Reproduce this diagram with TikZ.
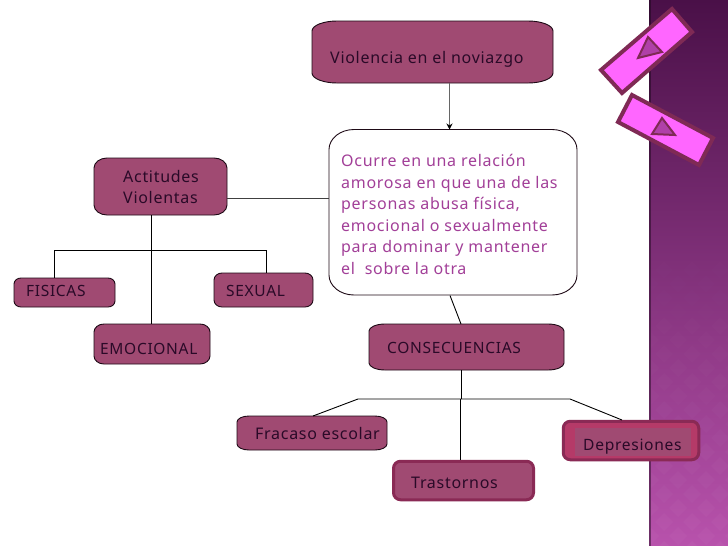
\documentclass[tikz,border=0pt]{standalone}
\usepackage{fontspec}
\setmainfont[LetterSpace=4.4]{Noto Sans}
\usetikzlibrary{arrows.meta}
\definecolor{boxfill}{HTML}{A04A72}
\definecolor{boxedge}{HTML}{1E0A16}
\definecolor{heavyedge}{HTML}{8A2A55}
\definecolor{deprfill}{HTML}{B53A68}
\definecolor{txtdark}{HTML}{2A0A28}
\definecolor{txtpink}{HTML}{A23F98}
\definecolor{decopink}{HTML}{FF66FF}
\definecolor{decoedge}{HTML}{7F2A55}
\definecolor{decotri}{HTML}{B040A8}
\definecolor{bandtop}{HTML}{4A1048}
\definecolor{bandmid}{HTML}{963C91}
\definecolor{bandbot}{HTML}{B852AC}
\tikzset{
  x=1pt,y=-1pt,
  softshape/.style={fill=boxfill,draw=boxedge,line width=0.9pt},
  whiteshape/.style={fill=white,draw=boxedge,line width=0.9pt},
  heavyshape/.style={fill=boxfill,draw=heavyedge,line width=3pt,rounded corners=7pt},
  anchorbox/.style={inner sep=0pt,outer sep=0pt},
  dark/.style={anchor=base west,inner sep=0pt,text=txtdark,font=\fontsize{16}{21.4}\selectfont},
  darkcaps/.style={dark,font=\fontsize{15.5}{21.4}\selectfont},
  para/.style={anchor=north west,inner sep=0pt,text=txtpink,align=left,font=\fontsize{16}{21.6}\selectfont},
  wire/.style={draw=black,line width=0.9pt},
  deco/.style={fill=decopink,draw=decoedge,line width=4pt,miter limit=10},
  decotriangle/.style={fill=decotri,draw=decoedge,line width=2pt}
}
\newcommand{\softnode}[7]{% name x1 y1 x2 y2 rx ry, style from \softstyle
  \draw[\softstyle] ({#2+#6},#3) -- ({#4-#6},#3)
    .. controls ({#4-.45*#6},#3) and (#4,{#3+.45*#7}) .. (#4,{#3+#7})
    -- (#4,{#5-#7})
    .. controls (#4,{#5-.45*#7}) and ({#4-.45*#6},#5) .. ({#4-#6},#5)
    -- ({#2+#6},#5)
    .. controls ({#2+.45*#6},#5) and (#2,{#5-.45*#7}) .. (#2,{#5-#7})
    -- (#2,{#3+#7})
    .. controls (#2,{#3+.45*#7}) and ({#2+.45*#6},#3) .. ({#2+#6},#3) -- cycle;
  \node[anchorbox,minimum width={(#4-#2)*1pt},minimum height={(#5-#3)*1pt}] (#1) at ({(#2+#4)/2},{(#3+#5)/2}) {};}
\begin{document}
\begin{tikzpicture}
\useasboundingbox (0,0) rectangle (728,546);
\fill[white] (0,0) rectangle (649,546);
% side band
\shade[top color=bandtop,middle color=bandmid,bottom color=bandbot] (649,0) rectangle (728,546);
\begin{scope}
  \clip (651,200) rectangle (728,546);
  \foreach \r in {0,...,25}{
    \pgfmathsetmacro{\op}{\r*0.0012}
    \foreach \c in {0,...,3}{
      \pgfmathsetmacro{\cx}{650+\c*28+mod(\r,2)*14}
      \pgfmathsetmacro{\cy}{200+\r*14}
      \fill[white,opacity=\op] (\cx,{\cy-9}) -- ({\cx+9},\cy) -- (\cx,{\cy+9}) -- ({\cx-9},\cy) -- cycle;
    }
  }
\end{scope}
\fill[black!70!bandtop,opacity=.45] (649,0) rectangle (651,546);

% boxes
\def\softstyle{softshape}
\softnode{viol}{312}{21}{553}{83}{25}{10}
\softnode{acti}{94}{158}{227}{215}{13}{10}
\softnode{fisi}{14}{278}{115}{307}{7}{6}
\softnode{sexu}{214}{273}{313}{307}{8}{7}
\softnode{emoc}{94}{324}{210}{364}{10}{8}
\softnode{cons}{369}{324}{564}{370}{16}{7}
\softnode{frac}{237}{416}{387}{450}{12}{6}
\def\softstyle{whiteshape}
\softnode{ocur}{329}{129.5}{577}{295}{25}{20}

\node[heavyshape,anchorbox,minimum width=140pt,minimum height=38.5pt] (tras) at (463.5,480.5) {};
\node[heavyshape,fill=deprfill,anchorbox,minimum width=135.5pt,minimum height=38.5pt] (depr) at (631,440.5) {};
\fill[boxfill] (575,428) rectangle (691,456);

% junction points
\coordinate (hleft) at (54,250);
\coordinate (hright) at (266,250);
\coordinate (jfis) at (54,278);
\coordinate (jsex) at (266,273);
\coordinate (cmid) at (461,399);
\coordinate (cl) at (358,399);
\coordinate (cr) at (570,399);
\coordinate (jfrac) at (313,416);
\coordinate (jdepr) at (622,420);
\coordinate (ctop) at (461,370);
\coordinate (otop) at (461,324);
\coordinate (obot) at (450,295.5);
\coordinate (ttop) at (460,460);
\coordinate (tmid) at (460,399);
\coordinate (vbot) at (449.5,83);
\coordinate (otip) at (449.5,129.5);
\coordinate (atop) at (151,215);
\coordinate (ebot) at (151,324);
\coordinate (aright) at (227,198);
\coordinate (oleft) at (329,198);

\draw[draw=black!60,line width=1pt,-{Stealth[black,length=6pt,width=6pt]}] (vbot) -- (otip);
\draw[draw=black!75,line width=0.8pt] (aright) -- (oleft);
\draw[wire] (atop) -- (ebot);
\draw[wire] (jfis) -- (hleft) -- (hright) -- (jsex);
\draw[wire] (obot) -- (otop);
\draw[wire] (ctop) -- (cmid);
\draw[wire] (jfrac) -- (cl) -- (cr) -- (jdepr);
\draw[wire] (tmid) -- (ttop);

% labels
\node[dark] (tviol) at (330,63) {Violencia en el noviazgo};
\node[dark,align=left,anchor=north west] (tacti) at (123,170) {Actitudes\\Violentas};
\node[darkcaps] (tfisi) at (26,296) {FISICAS};
\node[darkcaps] (tsexu) at (226,296) {SEXUAL};
\node[darkcaps] (temoc) at (100,354) {EMOCIONAL};
\node[darkcaps] (tcons) at (387,353) {CONSECUENCIAS};
\node[dark] (tfrac) at (255,439) {Fracaso escolar};
\node[dark] (ttras) at (411,488) {Trastornos};
\node[dark,font=\fontsize{15.6}{21.4}\selectfont] (tdepr) at (583,450) {Depresiones};
\node[para] (tocur) at (341,154) {Ocurre en una relación\\amorosa en que una de las\\personas abusa física,\\emocional o sexualmente\\para dominar y mantener\\el\ \ sobre la otra};

% decorations
\draw[deco] (672,9) -- (692,32) -- (622,93) -- (601,70) -- cycle;
\draw[decotriangle] (648,37) -- (662,52) -- (638,58) -- cycle;
\draw[deco] (632,95) -- (713,138) -- (699,165) -- (618,122) -- cycle;
\draw[decotriangle] (662,118) -- (675,135) -- (652,134) -- cycle;
\end{tikzpicture}
\end{document}
